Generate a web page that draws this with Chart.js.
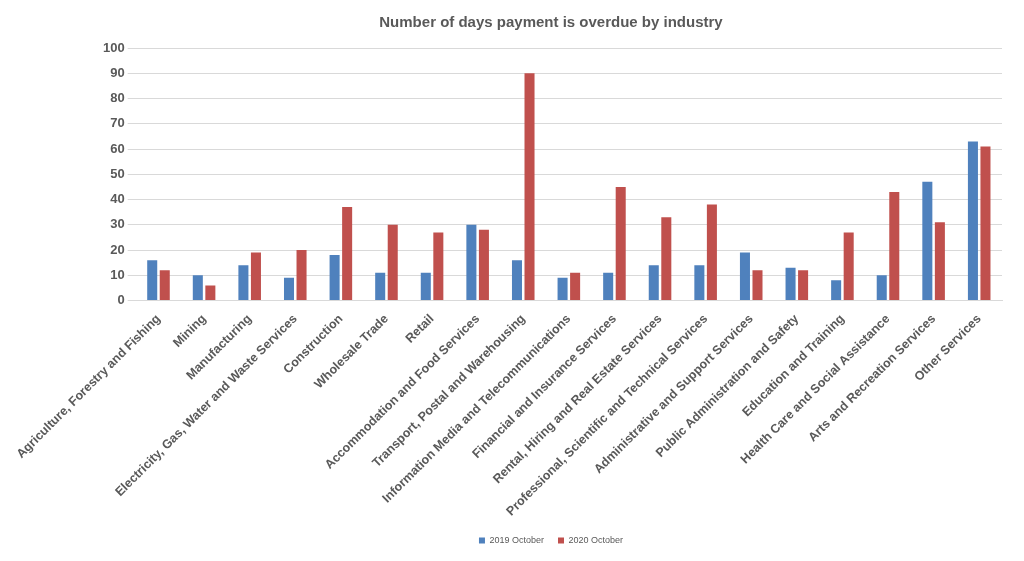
<!DOCTYPE html>
<html>
<head>
<meta charset="utf-8">
<script src="https://cdn.jsdelivr.net/npm/chart.js@4"></script>
<style>
  html, body { margin: 0; padding: 0; background: #fff; }
  #wrap { width: 1024px; height: 561px; }
</style>
</head>
<body>
<div id="wrap"><canvas id="chart"></canvas></div>
<script>
const industries = [
  'Agriculture, Forestry and Fishing', 'Mining', 'Manufacturing',
  'Electricity, Gas, Water and Waste Services', 'Construction', 'Wholesale Trade',
  'Retail', 'Accommodation and Food Services', 'Transport, Postal and Warehousing',
  'Information Media and Telecommunications', 'Financial and Insurance Services',
  'Rental, Hiring and Real Estate Services', 'Professional, Scientific and Technical Services',
  'Administrative and Support Services', 'Public Administration and Safety',
  'Education and Training', 'Health Care and Social Assistance',
  'Arts and Recreation Services', 'Other Services'
];
const oct2019 = [16, 10, 14, 9, 18, 11, 11, 30, 16, 9, 11, 14, 14, 19, 13, 8, 10, 47, 63];
const oct2020 = [12, 6, 19, 20, 37, 30, 27, 28, 90, 11, 45, 33, 38, 12, 12, 27, 43, 31, 61];

Chart.defaults.font.family = '"Liberation Sans", "DejaVu Sans", sans-serif';
Chart.defaults.color = '#595959';

new Chart(document.getElementById('chart').getContext('2d'), {
  type: 'bar',
  data: {
    labels: industries,
    datasets: [
      { label: '2019 October', data: oct2019, backgroundColor: '#4F81BD' },
      { label: '2020 October', data: oct2020, backgroundColor: '#C0504D' }
    ]
  },
  options: {
    responsive: true,
    maintainAspectRatio: false,
    animation: false,
    datasets: { bar: { categoryPercentage: 0.55, barPercentage: 0.8 } },
    layout: { padding: { left: 100, right: 22, top: 8, bottom: 6 } },
    plugins: {
      title: {
        display: true,
        text: 'Number of days payment is overdue by industry',
        font: { size: 15, weight: 'bold' },
        color: '#595959',
        padding: { top: 6, bottom: 16 }
      },
      legend: {
        position: 'bottom',
        labels: { boxWidth: 6, boxHeight: 6, font: { size: 9 }, padding: 14 }
      }
    },
    scales: {
      x: {
        grid: { display: false },
        border: { color: '#d9d9d9' },
        ticks: { maxRotation: 45, minRotation: 45, autoSkip: false, font: { size: 12.5, weight: 'bold' }, color: '#595959' }
      },
      y: {
        min: 0, max: 100,
        ticks: { stepSize: 10, font: { size: 13, weight: 'bold' }, color: '#595959' },
        grid: { color: '#d9d9d9' },
        border: { display: false }
      }
    }
  }
});
</script>
</body>
</html>
